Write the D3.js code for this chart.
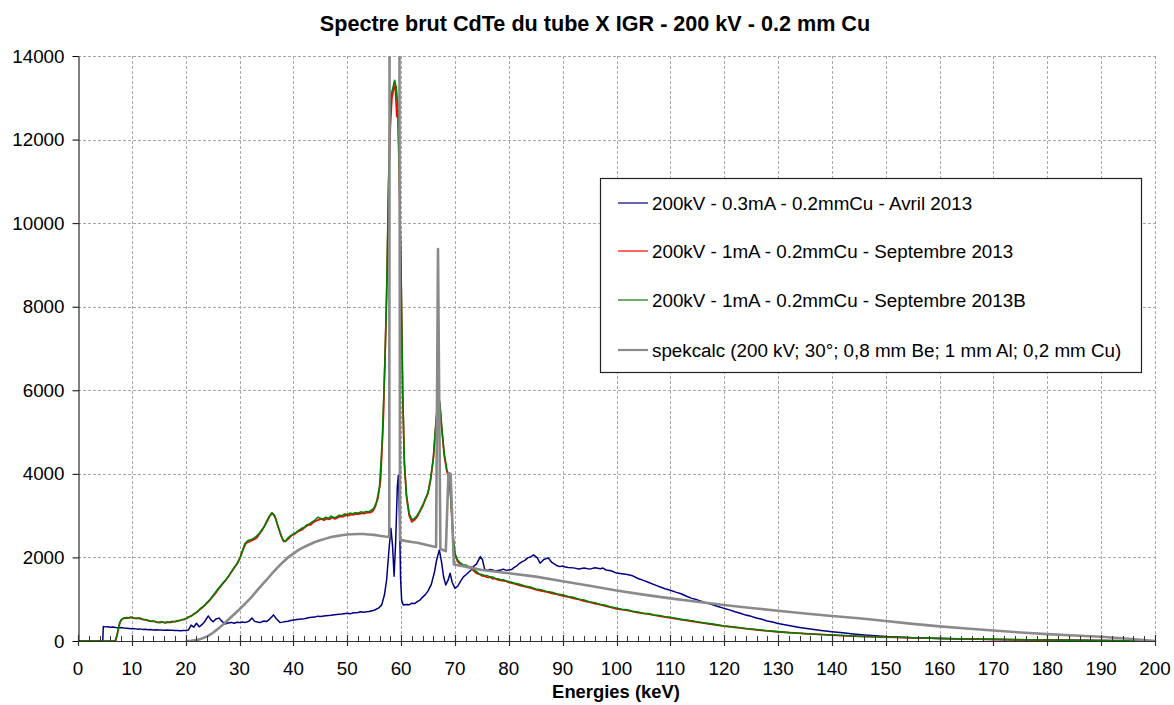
<!DOCTYPE html>
<html><head><meta charset="utf-8">
<script src="https://cdn.jsdelivr.net/npm/d3@7/dist/d3.min.js"></script>
<style>
body{margin:0;background:#fff;}
svg{display:block;font-family:Arial,"Liberation Sans",sans-serif;}
</style>
</head><body>
<svg id="chart" width="1174" height="705"></svg>
<script>
// ---------------- DATA ----------------
const chartTitle = "Spectre brut CdTe du tube X IGR - 200 kV - 0.2 mm Cu";
const xAxisTitle = "Energies (keV)";
const xTickValues = [0,10,20,30,40,50,60,70,80,90,100,110,120,130,140,150,160,170,180,190,200];
const yTickValues = [0,2000,4000,6000,8000,10000,12000,14000];
const seriesNames = [
  "200kV - 0.3mA - 0.2mmCu - Avril 2013",
  "200kV - 1mA - 0.2mmCu - Septembre 2013",
  "200kV - 1mA - 0.2mmCu - Septembre 2013B",
  "spekcalc (200 kV; 30°; 0,8 mm Be; 1 mm Al; 0,2 mm Cu)"
];

// [energy keV, counts]
const avril2013 = [[0,0],[4.6,0],[4.7,345],[5,338],[5.5,342],[6,330],[6.5,335],[7,322],[7.5,318],[8,325],[8.5,310],[9,305],[9.5,298],[10,292],[10.5,296],[11,284],[11.5,290],[12,278],[12.5,282],[13,272],[13.5,276],[14,266],[14.5,270],[15,262],[15.5,266],[16,258],[16.5,262],[17,255],[17.5,258],[18,250],[18.5,254],[19,248],[19.5,250],[20,250],[20.5,262],[21,380],[21.5,330],[22,425],[22.5,340],[23,390],[23.5,460],[24.2,600],[24.7,505],[25.1,460],[25.6,525],[26.2,548],[26.7,475],[27.3,405],[27.8,430],[28.5,445],[29,425],[29.5,450],[30,440],[30.5,455],[31,445],[31.7,470],[32.3,548],[32.8,470],[33.3,455],[33.8,440],[34.5,478],[35,465],[35.6,525],[36.3,625],[36.8,540],[37.5,440],[38,452],[38.5,468],[39,475],[39.5,490],[40,502],[41,518],[42,532],[43,560],[44,572],[44.5,595],[45,585],[46,602],[47,615],[48,632],[49,645],[50,662],[50.5,650],[51,672],[52,680],[52.5,700],[53,690],[54,706],[55,735],[55.8,785],[56.4,865],[56.9,1100],[57.3,1450],[57.7,2100],[58.1,2700],[58.4,2300],[58.7,1550],[59,2400],[59.3,3700],[59.5,3970],[59.7,3000],[59.9,1500],[60.1,980],[60.4,860],[61,875],[61.5,865],[62,905],[62.5,895],[63,940],[63.5,980],[64,1050],[64.5,1110],[65,1200],[65.6,1350],[66.2,1650],[66.6,1940],[67.1,2180],[67.5,1900],[67.9,1530],[68.3,1340],[68.7,1450],[69.1,1620],[69.5,1400],[70,1260],[70.5,1310],[71,1420],[71.6,1540],[72,1580],[72.5,1640],[73,1700],[73.4,1780],[74,1840],[74.7,2020],[75.1,1950],[75.5,1720],[76,1690],[76.5,1710],[77,1700],[77.5,1670],[78,1685],[78.5,1700],[79,1720],[79.5,1690],[80,1700],[80.5,1710],[81,1760],[81.5,1800],[82,1860],[82.5,1900],[83,1930],[83.5,1990],[84,2010],[84.6,2060],[85.3,1990],[85.8,1860],[86.5,1950],[87.3,1990],[88,1880],[88.5,1840],[89,1800],[89.5,1780],[90,1795],[90.5,1770],[91,1760],[92,1750],[93,1725],[94,1745],[95,1720],[96,1755],[97,1730],[97.5,1745],[98,1700],[99,1680],[100,1625],[101,1610],[102,1590],[103,1560],[104,1495],[105,1450],[106,1400],[107,1350],[108,1300],[109,1250],[110,1215],[111,1170],[112,1130],[113,1070],[114,1020],[115,985],[116,940],[117,900],[118,860],[119,820],[120,780],[121,745],[122,700],[123,665],[124,620],[125,590],[126,550],[127,520],[128,480],[129,455],[130,420],[132,370],[134,325],[136,285],[138,250],[140,220],[142,195],[144,170],[146,145],[148,125],[150,105],[155,80],[160,60],[165,45],[170,35],[175,28],[180,22],[185,16],[190,10],[195,5],[198,0]];

const septembre2013 = [[0,0],[7.0,0],[7.4,230],[7.8,450],[8.2,520],[8.7,555],[9.2,545],[9.7,570],[10.2,552],[10.7,538],[11.2,547],[11.7,525],[12.2,510],[12.7,500],[13.2,480],[13.7,468],[14.2,472],[14.7,445],[15.2,440],[15.7,456],[16.2,430],[16.7,450],[17.2,442],[17.7,460],[18.2,470],[18.7,480],[19.2,505],[19.7,512],[20.2,545],[20.7,580],[21.2,610],[21.7,655],[22.2,700],[22.7,760],[23.2,810],[23.7,880],[24.2,935],[24.7,1010],[25.2,1090],[25.7,1170],[26.2,1260],[26.7,1340],[27.2,1420],[27.7,1500],[28.2,1590],[28.7,1690],[29.2,1780],[29.7,1880],[30.2,2020],[30.7,2200],[31.2,2340],[31.7,2370],[32.2,2400],[32.7,2430],[33.2,2470],[33.7,2560],[34.2,2650],[34.7,2760],[35.2,2880],[35.7,3010],[36.2,3050],[36.7,2930],[37.2,2720],[37.7,2520],[38.2,2380],[38.7,2400],[39.2,2460],[39.7,2530],[40.2,2550],[40.7,2610],[41.2,2640],[41.7,2670],[42.2,2730],[42.7,2770],[43.2,2780],[43.7,2840],[44.2,2870],[44.7,2900],[45.2,2920],[45.7,2890],[46.2,2930],[46.7,2910],[47.2,2960],[47.7,2920],[48.2,2950],[48.7,2980],[49.2,2970],[49.7,3010],[50.2,3000],[50.7,3030],[51.2,3020],[51.7,3040],[52.2,3035],[52.7,3060],[53.2,3050],[53.7,3070],[54.2,3070],[54.7,3100],[55.2,3210],[55.7,3420],[56.2,3850],[56.7,5300],[57.1,7200],[57.4,8800],[57.7,11000],[58.0,12300],[58.3,13000],[58.6,13200],[58.9,13300],[59.2,12550],[59.4,12700],[59.7,10800],[60.0,8700],[60.3,5900],[60.6,4250],[61,3450],[61.5,3000],[62,2850],[62.5,2900],[63,2970],[63.5,3100],[64,3220],[64.5,3380],[65,3530],[65.5,3870],[66,4380],[66.5,5250],[66.9,5800],[67.2,5650],[67.5,5150],[68,4450],[68.5,4050],[69,3850],[69.3,3250],[69.6,2550],[70,2070],[70.5,1900],[71,1840],[71.5,1790],[72,1800],[72.5,1760],[73,1740],[73.5,1680],[74,1620],[74.5,1600],[75,1560],[75.5,1550],[76,1520],[76.5,1530],[77,1490],[77.5,1490],[78,1460],[78.5,1450],[79,1440],[79.5,1430],[80,1400],[81,1370],[82,1330],[83,1300],[84,1270],[85,1230],[86,1200],[87,1175],[88,1140],[89,1115],[90,1080],[91,1055],[92,1020],[93,995],[94,955],[95,930],[96,895],[97,870],[98,835],[99,805],[100,770],[102,730],[104,680],[106,640],[108,595],[110,555],[112,512],[114,470],[116,432],[118,392],[120,355],[122,325],[124,295],[126,268],[128,240],[130,218],[135,175],[140,140],[145,112],[150,92],[160,60],[170,38],[180,22],[190,9],[200,0]];

const septembre2013B = [[0,0],[6.9,0],[7.3,160],[7.7,420],[8,505],[8.5,548],[9,562],[9.5,551],[10,566],[10.5,549],[11,541],[11.5,552],[12,522],[12.5,515],[13,497],[13.5,472],[14,480],[14.5,455],[15,448],[15.5,462],[16,441],[16.5,457],[17,447],[17.5,470],[18,462],[18.5,488],[19,497],[19.5,520],[20,528],[20.5,575],[21,598],[21.5,650],[22,688],[22.5,745],[23,805],[23.5,850],[24,925],[24.5,990],[25,1075],[25.5,1160],[26,1250],[26.5,1320],[27,1405],[27.5,1470],[28,1560],[28.5,1660],[29,1760],[29.5,1850],[30,1965],[30.5,2150],[31,2330],[31.5,2400],[32,2420],[32.5,2445],[33,2490],[33.5,2550],[34,2640],[34.5,2720],[35,2860],[35.5,2980],[36,3070],[36.5,3010],[37,2800],[37.5,2610],[38,2430],[38.5,2380],[39,2470],[39.5,2520],[40,2560],[40.5,2600],[41,2650],[41.5,2690],[42,2720],[42.5,2780],[43,2800],[43.5,2850],[44,2890],[44.5,2960],[45,2940],[45.5,2920],[46,2960],[46.5,2930],[47,2990],[47.5,2950],[48,2970],[48.5,3010],[49,2995],[49.5,3040],[50,3030],[50.5,3060],[51,3045],[51.5,3070],[52,3060],[52.5,3090],[53,3075],[53.5,3100],[54,3095],[54.5,3130],[55,3190],[55.5,3350],[56,3700],[56.5,4800],[57,6700],[57.3,8200],[57.6,10500],[57.9,12500],[58.2,13100],[58.5,13250],[58.8,13420],[59.1,13250],[59.4,12800],[59.7,11000],[60,8800],[60.3,6000],[60.6,4300],[61,3500],[61.5,3050],[62,2900],[62.5,2930],[63,3010],[63.5,3120],[64,3250],[64.5,3400],[65,3560],[65.5,3900],[66,4400],[66.5,5300],[66.9,5850],[67.2,5700],[67.5,5200],[68,4500],[68.5,4100],[69,3880],[69.3,3300],[69.6,2600],[70,2100],[70.5,1930],[71,1870],[71.5,1825],[72,1820],[72.5,1780],[73,1770],[73.5,1700],[74,1660],[74.5,1605],[75,1590],[75.5,1565],[76,1565],[76.5,1535],[77,1530],[77.5,1495],[78,1490],[78.5,1465],[79,1465],[79.5,1435],[80,1425],[81,1385],[82,1355],[83,1315],[84,1290],[85,1245],[86,1225],[87,1185],[88,1165],[89,1125],[90,1105],[91,1065],[92,1045],[93,1000],[94,980],[95,935],[96,915],[97,875],[98,855],[99,810],[100,790],[101,760],[102,745],[103,710],[104,695],[105,665],[106,655],[107,620],[108,610],[109,580],[110,570],[112,518],[114,484],[116,438],[118,404],[120,360],[122,334],[124,298],[126,276],[128,244],[130,224],[132,200],[134,187],[136,168],[138,157],[140,142],[142,132],[144,119],[146,111],[148,101],[150,96],[155,77],[160,63],[165,49],[170,41],[175,30],[180,25],[185,15],[190,11],[195,4],[200,0]];

const spekcalc = [[20,0],[21,5],[22,20],[23,60],[24,110],[25,190],[26,290],[27,400],[28,520],[29,640],[30,760],[31,890],[32,1020],[33,1170],[34,1320],[35,1460],[36,1610],[37,1750],[38,1880],[39,2000],[40,2090],[41,2180],[42,2250],[43,2310],[44,2370],[45,2410],[46,2450],[47,2490],[48,2510],[49,2530],[50,2550],[51,2555],[52,2560],[53,2560],[54,2550],[55,2540],[56,2520],[57,2500],[57.8,2490],[57.9,24000],[59.6,26000],[59.8,2420],[61,2390],[62,2370],[63,2350],[64,2320],[65,2290],[66,2260],[66.5,2250],[66.85,9380],[67.3,2200],[68.3,2150],[68.8,4020],[69.2,4000],[69.8,1830],[72,1780],[75,1700],[80,1620],[85,1540],[90,1430],[95,1320],[100,1210],[105,1110],[110,1020],[115,940],[120,860],[125,790],[130,725],[135,660],[140,598],[145,545],[150,478],[155,410],[160,350],[165,300],[170,250],[175,205],[180,165],[185,130],[190,100],[195,55],[199.5,5],[200,0]];

const seriesData = [avril2013, septembre2013, septembre2013B, spekcalc];

// ---------------- STYLE / LAYOUT ----------------
const colors = ["#000080", "#ff0000", "#008000", "#8a8a8a"];
const widths = [1.5, 1.7, 1.6, 2.6];
const legendWidths = [1.2, 1.2, 1.2, 2.2];
const tickFont = 18.8;

const plot = {left: 78, right: 1155, top: 56, bottom: 641};

const svg = d3.select("#chart");
const x = d3.scaleLinear().domain([0, 200]).range([plot.left, plot.right]);
const y = d3.scaleLinear().domain([0, 14000]).range([plot.bottom, plot.top]);

// grid
const grid = svg.append("g").attr("stroke", "#a8a8a8").attr("stroke-width", 1).attr("stroke-dasharray", "3,2").attr("shape-rendering", "crispEdges");
grid.selectAll("line.v").data(xTickValues.filter(d => d > 0)).join("line")
  .attr("x1", d => Math.round(x(d)) + 0.5).attr("x2", d => Math.round(x(d)) + 0.5)
  .attr("y1", plot.top).attr("y2", plot.bottom);
grid.selectAll("line.h").data(yTickValues.filter(d => d > 0)).join("line")
  .attr("x1", plot.left).attr("x2", plot.right)
  .attr("y1", d => Math.round(y(d)) + 0.5).attr("y2", d => Math.round(y(d)) + 0.5);

// clip
svg.append("defs").append("clipPath").attr("id", "clip").append("rect")
  .attr("x", plot.left).attr("y", plot.top).attr("width", plot.right - plot.left).attr("height", plot.bottom - plot.top + 1);

// series
const line = d3.line().x(d => x(d[0])).y(d => y(d[1]));
const lines = svg.append("g").attr("clip-path", "url(#clip)");
seriesData.forEach((s, i) => {
  lines.append("path").datum(s).attr("d", line)
    .attr("fill", "none").attr("stroke", colors[i]).attr("stroke-width", widths[i])
    .attr("stroke-linejoin", "round");
});

// Y axis
const yAxis = d3.axisLeft(y).tickValues(yTickValues).tickSize(6).tickSizeOuter(0).tickPadding(8).tickFormat(d3.format("d"));
const gy = svg.append("g").attr("transform", `translate(${plot.left + 0.5},0)`).call(yAxis);
gy.select(".domain").attr("stroke", "#000");
gy.selectAll(".tick line").attr("stroke", "#000");
gy.selectAll(".tick text").attr("font-size", tickFont).attr("fill", "#000").attr("font-family", "Arial, 'Liberation Sans', sans-serif");

// X axis line and ticks
const gx = svg.append("g");
gx.append("line").attr("x1", plot.left).attr("x2", plot.right).attr("y1", plot.bottom + 0.5).attr("y2", plot.bottom + 0.5).attr("stroke", "#333").attr("stroke-width", 1.2);
const minorTicks = d3.range(0, 201, 2).filter(d => d % 10 !== 0);
gx.selectAll("line.minor").data(minorTicks).join("line")
  .attr("x1", d => Math.round(x(d)) + 0.5).attr("x2", d => Math.round(x(d)) + 0.5)
  .attr("y1", plot.bottom - 5).attr("y2", plot.bottom).attr("stroke", "#333");
gx.selectAll("line.major").data(xTickValues).join("line")
  .attr("x1", d => Math.round(x(d)) + 0.5).attr("x2", d => Math.round(x(d)) + 0.5)
  .attr("y1", plot.bottom - 6).attr("y2", plot.bottom + 5).attr("stroke", "#333").attr("stroke-width", 1.2);
gx.selectAll("text").data(xTickValues).join("text")
  .attr("x", d => x(d)).attr("y", 675).attr("text-anchor", "middle")
  .attr("font-size", tickFont).attr("fill", "#000").text(d => d);

// titles
svg.append("text").attr("x", 595).attr("y", 31).attr("text-anchor", "middle")
  .attr("font-size", 21.6).attr("font-weight", "bold").attr("fill", "#000").text(chartTitle);
svg.append("text").attr("x", 616).attr("y", 698).attr("text-anchor", "middle")
  .attr("font-size", 18.4).attr("font-weight", "bold").attr("fill", "#000").text(xAxisTitle);

// legend
const lg = svg.append("g");
lg.append("rect").attr("x", 600.5).attr("y", 178.5).attr("width", 541).attr("height", 194)
  .attr("fill", "#fff").attr("stroke", "#222").attr("stroke-width", 1.2);
const rowsY = [203, 251, 300, 350];
seriesNames.forEach((n, i) => {
  lg.append("line").attr("x1", 618).attr("x2", 648).attr("y1", rowsY[i]).attr("y2", rowsY[i])
    .attr("stroke", colors[i]).attr("stroke-width", legendWidths[i]);
  lg.append("text").attr("x", 652).attr("y", rowsY[i]).attr("dy", "0.35em")
    .attr("font-size", 18.8).attr("fill", "#000").text(n);
});
</script>
</body></html>
